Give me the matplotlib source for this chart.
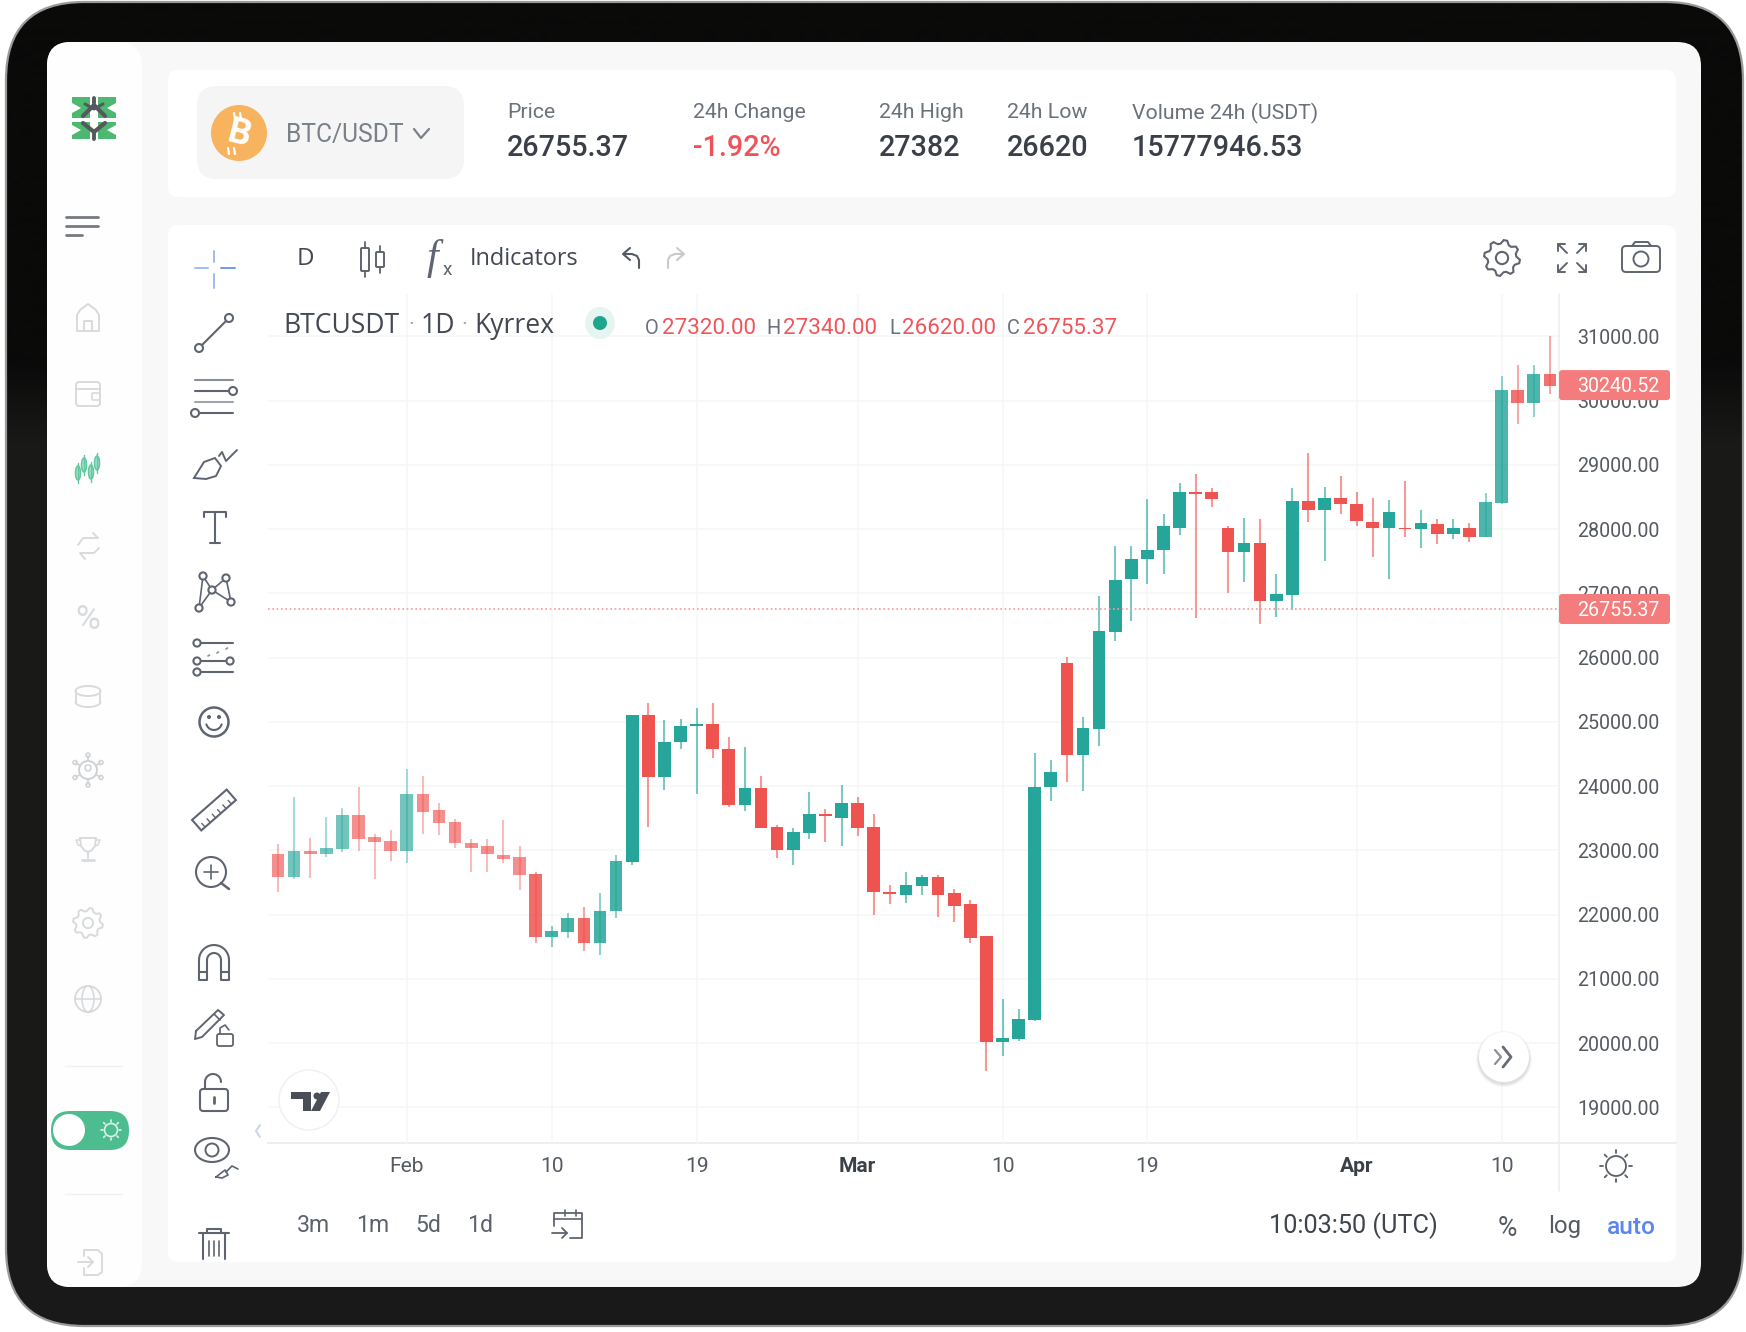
#!/usr/bin/env python3
"""BTC/USDT daily candles on a trading screen inside a tablet frame."""

import numpy as np
import matplotlib
matplotlib.use("Agg")
import matplotlib.pyplot as plt
from matplotlib.patches import Circle, Ellipse, FancyBboxPatch, Polygon, Rectangle

plt.rcParams["font.family"] = ["Roboto", "DejaVu Sans"]

# one candle a day, first one (Jan 23) is cut off by the left edge of the pane
days = list(range(-1, 80))
opens = [22850, 22950, 22590, 22990, 22950, 23020, 23550, 23200, 23140, 22990, 23870, 23620, 23440, 23120, 23060, 22920,
         22900, 22630, 21650, 21730, 21950, 21550, 22050, 22820, 25100, 24140, 24680, 24930, 24960, 24580, 23710, 23970,
         23370, 23010, 23270, 23570, 23510, 23730, 23360, 22350, 22310, 22440, 22580, 22340, 22160, 21660, 20010, 20070,
         20360, 23980, 25920, 24480, 24890, 26400, 27220, 27530, 27680, 28020, 28570, 28570, 28020, 27640, 27790, 26880,
         26970, 28440, 28290, 28480, 28390, 28110, 28020, 28020, 28000, 28080, 27930, 28020, 27870, 28400, 30170, 29960,
         30420]
highs = [22990, 23100, 23830, 23190, 23520, 23660, 23980, 23260, 23320, 24270, 24150, 23730, 23480, 23180, 23180, 23470,
         23060, 22660, 21820, 22020, 22110, 22340, 22920, 25110, 25290, 25030, 25050, 25210, 25290, 24760, 24610, 24150,
         23390, 23340, 23910, 23640, 24020, 23830, 23570, 22460, 22670, 22620, 22610, 22400, 22220, 21670, 20690, 20530,
         24510, 24400, 26010, 25080, 26960, 27730, 27730, 28460, 28240, 28710, 28850, 28640, 28050, 28170, 28150, 27300,
         28640, 29180, 28650, 28820, 28570, 28490, 28450, 28750, 28300, 28150, 28150, 28100, 28560, 30380, 30560, 30560,
         31010]
lows = [22810, 22350, 22550, 22570, 22900, 22980, 22990, 22550, 22840, 22800, 23260, 23240, 23030, 22660, 22660, 22800,
        22380, 21550, 21490, 21640, 21440, 21370, 21940, 22770, 23370, 23940, 24570, 23870, 24430, 23670, 23610, 23340,
        22880, 22770, 23180, 23130, 23060, 23220, 22000, 22170, 22180, 22300, 21960, 21890, 21550, 19570, 19800, 20030,
        20350, 23770, 24070, 23920, 24630, 26260, 26570, 27140, 27300, 27900, 26610, 28350, 27010, 27170, 26520, 26630,
        26740, 28110, 27510, 28230, 28050, 27570, 27220, 27870, 27710, 27770, 27850, 27800, 27870, 28390, 29630, 29750,
        30100]
closes = [22950, 22590, 22990, 22950, 23030, 23550, 23180, 23130, 22990, 23870, 23600, 23420, 23110, 23040, 22950, 22870,
          22610, 21650, 21750, 21950, 21550, 22060, 22830, 25100, 24140, 24690, 24930, 24960, 24570, 23710, 23970, 23350,
          23010, 23280, 23570, 23530, 23730, 23350, 22350, 22320, 22460, 22580, 22310, 22140, 21640, 20010, 20080, 20370,
          23990, 24220, 24480, 24900, 26420, 27210, 27540, 27680, 28040, 28570, 28550, 28470, 27640, 27790, 26880, 26990,
          28440, 28290, 28480, 28390, 28120, 28020, 28270, 28000, 28090, 27930, 28020, 27870, 28420, 30170, 29960, 30420,
          30220]

price_ticks = list(range(19000, 32000, 1000))
date_ticks = [8, 17, 26, 36, 45, 54, 67, 76]
date_labels = ["Feb", "10", "19", "Mar", "10", "19", "Apr", "10"]
last_price = 26755.37
prev_price = 30240.52

header_labels = ["Price", "24h Change", "24h High", "24h Low", "Volume 24h (USDT)"]
header_values = ["26755.37", "-1.92%", "27382", "26620", "15777946.53"]
ranges = ["3m", "1m", "5d", "1d"]

RED = "#EF5350"
GREEN = "#26A69A"
TOOL = "#5F6570"
FAINT = "#D8DBDD"
TXT = "#434852"
LABEL_RED = "#F47C7C"
OPEN = "Open Sans"


def px(x):
    return x * 0.72


fig = plt.figure(figsize=(17.46, 13.32), dpi=100, facecolor="white")


def overlay(zorder):
    a = fig.add_axes([0, 0, 1, 1], zorder=zorder)
    a.set_xlim(0, 1746)
    a.set_ylim(1332, 0)
    a.axis("off")
    a.patch.set_alpha(0)
    return a


bg = overlay(0)
top = overlay(2)


def rrect(a, x0, y0, x1, y1, r, fc, ec="none", lw=0, z=1):
    p = FancyBboxPatch((x0 + r, y0 + r), x1 - x0 - 2 * r, y1 - y0 - 2 * r,
                       boxstyle=f"round,pad={r},rounding_size={r}",
                       fc=fc, ec=ec, lw=lw, zorder=z)
    a.add_patch(p)
    return p


def ln(xs, ys, c=TOOL, w=1.5, z=5):
    top.plot(xs, ys, color=c, lw=w, solid_capstyle="round", solid_joinstyle="round", zorder=z)


def circ(x, y, r, c=TOOL, w=1.5, fc="white", z=4):
    top.add_patch(Circle((x, y), r, fc=fc, ec=c, lw=w, zorder=z))


def label(x, y, s, size, c=TXT, ha="left", weight="normal", **kw):
    kw.setdefault("family", ["Roboto", "DejaVu Sans"])
    top.text(x, y, s, fontsize=px(size), color=c, ha=ha, va="center", fontweight=weight, zorder=6, **kw)


def gear(x, y, r, c=TOOL, teeth=8, w=1.5):
    ang = np.linspace(0, 2 * np.pi, teeth * 4, endpoint=False) + np.pi / (teeth * 4)
    rad = np.tile([r, r, r * 0.8, r * 0.8], teeth)
    top.add_patch(Polygon(np.c_[x + rad * np.cos(ang), y + rad * np.sin(ang)], closed=True, fc="white", ec=c, lw=w, zorder=4))
    circ(x, y, r * 0.34, c, w)


def sun(x, y, r, c, w=1.2):
    circ(x, y, r, c, w, fc="none")
    for t in np.arange(0, 2 * np.pi, np.pi / 4):
        ln([x + r * 1.3 * np.cos(t), x + r * 1.6 * np.cos(t)], [y + r * 1.3 * np.sin(t), y + r * 1.6 * np.sin(t)], c, w)


# device frame, black at the top and a bit lighter below the reflection
rows = np.interp(np.arange(1325), [0, 360, 440, 1325], [10, 10, 25, 26])
frame_img = np.stack([rows, rows, rows * 0.97], axis=1)[:, None, :] / 255
frame_clip = rrect(bg, 6, 2, 1743, 1326, 78, "none", "#9a9a9a", 1.6, z=1)
im = bg.imshow(frame_img, extent=(6, 1743, 1326, 2), aspect="auto", zorder=0.5)
im.set_clip_path(frame_clip)
bg.set_xlim(0, 1746)
bg.set_ylim(1332, 0)

rrect(bg, 47, 42, 1701, 1287, 24, "#F8F8F8", z=2)
rrect(bg, 47, 42, 142, 1287, 24, "#FEFEFE", z=2)
rrect(bg, 168, 70, 1676, 197, 10, "white", z=3)
rrect(bg, 168, 225, 1676, 1262, 10, "white", z=3)
rrect(bg, 197, 86, 464, 179, 20, "#F5F5F5", z=4)
bg.plot([268, 1676], [1143, 1143], color="#EDEEEF", lw=1.4, zorder=4)

# chart pane, scales chosen so the prices land on the screen gridlines
x0, x1, y0, y1 = 268, 1559, 294, 1143
Y31K = 336.3
PX_PER_USD = 0.06425
ax = fig.add_axes([x0 / 1746, 1 - y1 / 1332, (x1 - x0) / 1746, (y1 - y0) / 1332], zorder=1)
ax.patch.set_alpha(0)
ax.set_xlim((x0 - 278) / 16.1, (x1 - 278) / 16.1)
ax.set_ylim(31000 - (y1 - Y31K) / PX_PER_USD, 31000 - (y0 - Y31K) / PX_PER_USD)


def fade(i):
    # the screenshot washes out towards both edges
    if i <= 15:
        return 0.65
    if i <= 21:
        return 0.85
    if i >= 75:
        return 0.82
    return 1.0


for d, o, h, l, c in zip(days, opens, highs, lows, closes):
    col = GREEN if c >= o else RED
    ax.vlines(d, l, h, color=col, lw=1.5, alpha=fade(d) * 0.6, zorder=2)
    ax.bar(d, abs(c - o), bottom=min(o, c), width=0.79, color=col, alpha=fade(d), zorder=3)

ax.axhline(last_price, color="#F79A9A", lw=1.2, ls=(0, (1, 1.6)), zorder=4)

ax.yaxis.tick_right()
ax.set_yticks(price_ticks)
ax.set_yticklabels([f"{p:.2f}" for p in price_ticks], fontsize=px(19.6), color="#555A63")
ax.set_xticks(date_ticks)
ax.set_xticklabels(date_labels, fontsize=px(21), color="#555A63")
for t, s in zip(ax.get_xticklabels(), date_labels):
    if s in ("Mar", "Apr"):
        t.set_fontweight("bold")
        t.set_color("#3C4048")
ax.tick_params(axis="y", length=0, pad=px(18))
ax.tick_params(axis="x", length=0, pad=px(14))
ax.grid(True, color="#F5F6F7", lw=1.1, zorder=0)
ax.set_axisbelow(True)
for s in ax.spines.values():
    s.set_visible(False)

# price scale border and the two price tags
ln([1559, 1559], [294, 1191], "#EDEEEF", 1.1, 2)
for p in (prev_price, last_price):
    yc = Y31K + (31000 - p) * PX_PER_USD
    rrect(top, 1559, yc - 15, 1670, yc + 15, 3, LABEL_RED, z=5)
    label(1577, yc + 1.5, f"{p:.2f}", 19.6, "white")

# header
for x, a, b in zip([507, 693, 879, 1007, 1132], header_labels, header_values):
    label(x, 113, a, 21.3, "#6B717C")
    label(x, 148, b, 28.8, "#F0525A" if b.startswith("-") else "#3A3F49", weight="medium")
top.add_patch(Circle((239, 133), 28, fc="#F8B35E", ec="none", zorder=4))
label(239, 134, "B", 36, "white", ha="center", weight="bold", rotation=-14)
for dx in (-1, 5):
    ln([232 + dx + 3, 233 + dx + 3], [113, 119], "white", 1.6)
    ln([232 + dx - 3, 233 + dx - 3], [148, 154], "white", 1.6)
label(286, 135, "BTC/USDT", 24.6, "#7A808A")
ln([414, 421, 429], [129, 138, 129], "#7A808A", 1.6)

# logo and burger menu
for y_a, y_b in [(97, 118), (122, 139)]:
    top.add_patch(Rectangle((72, y_a), 44, y_b - y_a, fc="#4DB870", ec="none", zorder=3))
for y_c, sign in [(108, 1), (130, -1)]:
    for x_a, s in [(72, 1), (116, -1)]:
        top.add_patch(Polygon([(x_a, y_c - 5), (x_a + s * 9, y_c), (x_a, y_c + 5)], closed=True, fc="white", ec="none", zorder=4))
    top.add_patch(Polygon([(90, y_c - 11), (98, y_c - 11), (98, y_c + 11), (90, y_c + 11)], closed=True, fc="white", ec="none", zorder=4))
ln([83, 94, 105], [116, 105, 116], "#55585C", 3)
ln([85, 94, 103], [104, 109, 104], "#55585C", 2.2)
ln([94, 94], [98, 103], "#55585C", 2.8)
ln([83, 94, 105], [123, 132, 123], "#55585C", 3)
ln([94, 94], [131, 139], "#55585C", 2.8)
for y, xe in [(217, 98), (226, 98), (235, 82)]:
    ln([66, xe], [y, y], "#777B80", 2)

# sidebar icons
ln([77, 77, 80, 88, 96, 99, 99, 77], [330, 315, 310, 304, 310, 315, 331, 331], FAINT, 1.4)
ln([84, 84, 92, 92], [331, 321, 321, 331], FAINT, 1.4)
rrect(top, 76, 382, 100, 406, 3, "none", FAINT, 1.4, z=4)
ln([76, 100], [389, 389], FAINT, 1.4)
rrect(top, 92, 393, 100, 400, 1, "none", FAINT, 1.2, z=4)
for x, y, h in [(78, 473, 14), (84, 465, 14), (91, 472, 14), (97, 463, 14)]:
    top.add_patch(Ellipse((x, y), 5, h, fc="#A8E0C8", ec="#5FC8A0", lw=1.1, zorder=4))
    ln([x, x], [y - h / 2 - 3, y + h / 2 + 3], "#5FC8A0", 1)
ln([78, 83, 98, 93], [545, 538, 538, 533], FAINT, 1.4)
ln([99, 94, 80, 85], [548, 553, 553, 559], FAINT, 1.4)
label(88, 620, "%", 34, FAINT, ha="center")
top.add_patch(Ellipse((88, 691), 25, 10, fc="none", ec=FAINT, lw=1.4, zorder=4))
ln([76, 76], [691, 702], FAINT, 1.4)
ln([100, 100], [691, 702], FAINT, 1.4)
arc = np.linspace(0, np.pi, 16)
ln(88 + 12.5 * np.cos(arc), 702 + 5 * np.sin(arc), FAINT, 1.4)
circ(88, 770, 9, "#CFD2D4", 1.4)
circ(88, 768, 3, "#CFD2D4", 1.1)
for t in np.arange(0, 2 * np.pi, np.pi / 3) + np.pi / 6:
    ln([88 + 9 * np.cos(t), 88 + 14 * np.cos(t)], [770 + 9 * np.sin(t), 770 + 14 * np.sin(t)], "#CFD2D4", 1.2)
    circ(88 + 15 * np.cos(t), 770 + 15 * np.sin(t), 2, "#CFD2D4", 1.1)
ln([80, 81, 84, 88, 92, 95, 96, 80], [838, 846, 850, 852, 850, 846, 838, 838], FAINT, 1.4)
ln([80, 76, 78, 81], [840, 840, 845, 846], FAINT, 1.1)
ln([96, 100, 98, 95], [840, 840, 845, 846], FAINT, 1.1)
ln([88, 88], [852, 858], FAINT, 1.4)
ln([82, 94], [860, 860], FAINT, 2)
gear(88, 923, 15, FAINT, w=1.4)
circ(88, 999, 13, FAINT, 1.4, fc="none")
top.add_patch(Ellipse((88, 999), 12, 26, fc="none", ec=FAINT, lw=1.2, zorder=4))
ln([75, 101], [999, 999], FAINT, 1.2)
for y in (1066, 1194):
    ln([65, 122], [y, y], "#F0F1F2", 1)
rrect(top, 51, 1111, 129, 1150, 19, "#4DBD8F", z=3)
circ(69, 1130, 16, "white", 0, fc="white")
sun(111, 1130, 6.5, "#D8F3E8")
ln([84, 98, 102, 102, 98, 84], [1250, 1250, 1254, 1272, 1275, 1275], FAINT, 1.4)
ln([78, 93, 88], [1262, 1262, 1257], FAINT, 1.4)
ln([93, 88], [1262, 1267], FAINT, 1.4)
ln([84, 84], [1250, 1256], FAINT, 1.4)
ln([84, 84], [1268, 1275], FAINT, 1.4)

# drawing tools
ln([214, 214], [251, 262], "#9DBBF5", 1.4)
ln([214, 214], [274, 288], "#9DBBF5", 1.4)
ln([195, 208], [268, 268], "#9DBBF5", 1.4)
ln([221, 235], [268, 268], "#6D9AF3", 1.4)
ln([199, 229], [348, 318])
circ(199, 348, 4, z=6)
circ(229, 318, 4, z=6)
for y, c in [(380, "#8A8F96"), (391, TOOL), (402, "#A0A4AA"), (413, TOOL)]:
    ln([195, 233], [y, y], c)
circ(233, 391, 4, z=6)
circ(195, 413, 4, z=6)
top.add_patch(Polygon([(194, 478), (204, 462), (215, 458), (221, 466), (216, 476), (206, 479)], closed=True, fc="none", ec=TOOL, lw=1.4, zorder=3))
ln([219, 222, 226, 237], [456, 452, 461, 450], TOOL, 1.4)
ln([204, 204, 226, 226], [517, 512, 512, 517])
ln([215, 215], [512, 543])
ln([210, 220], [543, 543])
pts = [(203, 576), (226, 578), (212, 590), (231, 602), (199, 608)]
for i, j in [(0, 2), (2, 1), (1, 3), (3, 2), (0, 4), (2, 4)]:
    ln([pts[i][0], pts[j][0]], [pts[i][1], pts[j][1]], TOOL, 1.2)
for p in pts:
    circ(p[0], p[1], 3.6, z=6)
for y in (643, 661, 672):
    ln([197, 233], [y, y])
for x, y in [(197, 643), (197, 661), (230, 661), (197, 672)]:
    circ(x, y, 3.6, z=6)
for x, y in [(208, 656), (217, 653), (226, 649)]:
    ln([x, x + 1.5], [y, y - 1], "#8A8F96", 1.2)
circ(214, 722, 14.5, TOOL, 1.8)
circ(209, 717, 1.2, TOOL, 1.2, fc=TOOL, z=6)
circ(219, 717, 1.2, TOOL, 1.2, fc=TOOL, z=6)
ln(214 + 8 * np.cos(np.linspace(0.3, 2.84, 12)), 722 + 8 * np.sin(np.linspace(0.3, 2.84, 12)), TOOL, 1.5)

rul = np.array([(-23, -7), (23, -7), (23, 7), (-23, 7)], float)
rot = np.array([[np.cos(-0.72), -np.sin(-0.72)], [np.sin(-0.72), np.cos(-0.72)]])
top.add_patch(Polygon(rul @ rot.T + [214, 810], closed=True, fc="none", ec=TOOL, lw=1.5, zorder=3))
for k in range(-18, 20, 7):
    a_, b_ = rot @ [k, 7], rot @ [k, 2]
    ln([214 + a_[0], 214 + b_[0]], [810 + a_[1], 810 + b_[1]], TOOL, 1)
circ(211, 872, 15, TOOL, 1.5)
ln([221, 229], [883, 889], TOOL, 1.8)
ln([204, 218], [872, 872], TOOL, 1.2)
ln([211, 211], [865, 879], TOOL, 1.2)
th = np.linspace(np.pi, 2 * np.pi, 20)
ln(214 + 15 * np.cos(th), 960 + 15 * np.sin(th), TOOL, 1.5)
ln(214 + 7 * np.cos(th), 960 + 7 * np.sin(th), TOOL, 1.5)
ln([199, 199, 207, 207], [960, 980, 980, 960])
ln([229, 229, 221, 221], [960, 980, 980, 960])
ln([199, 207], [972, 972])
ln([221, 229], [972, 972])
ln([196, 218, 224, 202, 195, 196], [1031, 1010, 1015, 1037, 1039, 1031], TOOL, 1.4)
ln([214, 220], [1014, 1020], TOOL, 1.2)
rrect(top, 217, 1034, 233, 1046, 2, "none", TOOL, 1.3, z=4)
ln([220, 220, 225, 229], [1034, 1028, 1025, 1030], TOOL, 1.2)
rrect(top, 200, 1089, 228, 1111, 3, "none", TOOL, 1.5, z=4)
ln(213 + 8 * np.cos(th), 1082 + 8 * np.sin(th), TOOL, 1.5)
ln([205, 205], [1082, 1089])
ln([214, 214], [1097, 1103], TOOL, 2)
top.add_patch(Ellipse((212, 1150), 34, 24, fc="none", ec=TOOL, lw=1.5, zorder=3))
circ(212, 1150, 6.5, TOOL, 1.4)
ln([226, 232, 238], [1172, 1166, 1169], TOOL, 1.2)
ln([216, 225, 228, 222, 216], [1177, 1170, 1175, 1178, 1177], TOOL, 1.2)
ln([199, 229], [1233, 1233])
ln([207, 207, 221, 221], [1233, 1229, 1229, 1233])
ln([203, 203], [1233, 1259])
ln([225, 225], [1233, 1259])
ln([214, 214], [1241, 1256], TOOL, 1.2)
ln([209, 209], [1241, 1256], TOOL, 1.2)
ln([219, 219], [1241, 1256], TOOL, 1.2)

# trading view badge and pane arrows
circ(309, 1100, 30, "#F0F1F2", 1.1, z=3)
top.add_patch(Polygon([(291, 1092), (311, 1092), (311, 1111), (303, 1111), (303, 1099), (291, 1099)], closed=True, fc="#4A4E57", zorder=5))
circ(317, 1096, 3.5, "#4A4E57", 0, fc="#4A4E57", z=5)
top.add_patch(Polygon([(321, 1092), (330, 1092), (320, 1111), (311, 1111)], closed=True, fc="#4A4E57", zorder=5))
ln([260, 256, 260], [1125, 1131, 1137], "#C9D6E6", 1.4)
for r, a in [(28, 0.03), (27, 0.04), (26, 0.05)]:
    top.add_patch(Circle((1504, 1059), r, fc="black", alpha=a, ec="none", zorder=3))
circ(1504, 1057, 25, "white", 0, z=4)
ln([1495, 1501, 1495], [1050, 1057, 1064], "#8A8F96", 1.6)
ln([1503, 1511, 1503], [1047, 1057, 1067], "#676C75", 2)

# top toolbar
label(297, 259, "D", 24, TXT, family=OPEN)
for x, y_a, y_b in [(365, 248, 271), (380, 252, 267)]:
    rrect(top, x - 4, y_a, x + 4, y_b, 1, "none", TOOL, 1.4, z=4)
    ln([x, x], [y_a - 6, y_a], TOOL, 1.3)
    ln([x, x], [y_b, y_b + 6], TOOL, 1.3)
label(427, 259, "f", 42, TOOL, family="Liberation Serif", style="italic")
label(443, 270, "x", 19, TOOL)
label(470, 259, "Indicators", 23.5, TXT, family=OPEN)
ln([624, 632, 637, 639, 639], [254, 254, 256, 260, 268], "#555A63", 1.5)
ln([630, 623, 630], [248, 254, 260], "#555A63", 1.5)
ln([683, 675, 670, 668, 668], [254, 254, 256, 260, 268], "#C8CACC", 1.5)
ln([677, 684, 677], [248, 254, 260], "#C8CACC", 1.5)
gear(1502, 258, 18)
for sx, sy in [(-1, -1), (1, -1), (-1, 1), (1, 1)]:
    a, b = 1572 + sx * 5, 258 + sy * 5
    c, d = 1572 + sx * 14, 258 + sy * 14
    ln([a, c], [b, d], TOOL, 1.4)
    ln([c - sx * 7, c, c], [d, d, d - sy * 7], TOOL, 1.4)
rrect(top, 1622, 246, 1660, 272, 4, "none", TOOL, 1.4, z=4)
ln([1632, 1635, 1648, 1651], [246, 242, 242, 246], TOOL, 1.4)
circ(1641, 259, 7.5, TOOL, 1.4)

# legend row
label(283, 326, "BTCUSDT", 26.5, TXT, family=OPEN)
label(408, 326, "·", 22, "#A0A4AA")
label(421, 326, "1D", 26.5, TXT, family=OPEN)
label(461, 326, "·", 22, "#A0A4AA")
label(474, 326, "Kyrrex", 26.5, TXT, family=OPEN)
top.add_patch(Ellipse((600, 323), 30, 32, fc="#E6F4F2", ec="none", zorder=4))
top.add_patch(Circle((600, 323), 7, fc="#1FA68C", ec="none", zorder=5))
for x_a, a, x_b, b in [(645, "O", 662, "27320.00"), (766, "H", 783, "27340.00"), (889, "L", 902, "26620.00"), (1007, "C", 1023, "26755.37")]:
    label(x_a, 329, a, 20, "#6B717C")
    label(x_b, 329, b, 22.4, "#F0555A")

# bottom row
for x, s in zip([297, 356, 415, 467], ranges):
    label(x, 1226, s, 23, "#5C626C")
ln([554, 554, 582, 582, 570], [1226, 1213, 1213, 1238, 1238], TOOL, 1.3)
ln([554, 582], [1219, 1219], TOOL, 1.2)
ln([565, 565], [1210, 1216], TOOL, 1.2)
ln([576, 576], [1210, 1216], TOOL, 1.2)
ln([552, 567, 562], [1233, 1233, 1228], TOOL, 1.3)
ln([567, 562], [1233, 1238], TOOL, 1.3)
label(1269, 1226, "10:03:50 (UTC)", 25.3, "#3F444D")
label(1498, 1228, "%", 26.5, "#555A63")
label(1548, 1227, "log", 24, "#555A63")
label(1607, 1227, "auto", 24.5, "#5B86F0", weight="medium")
sun(1616, 1166, 10, "#5A5F68", 1.3)

fig.savefig("out.png", dpi=100)
